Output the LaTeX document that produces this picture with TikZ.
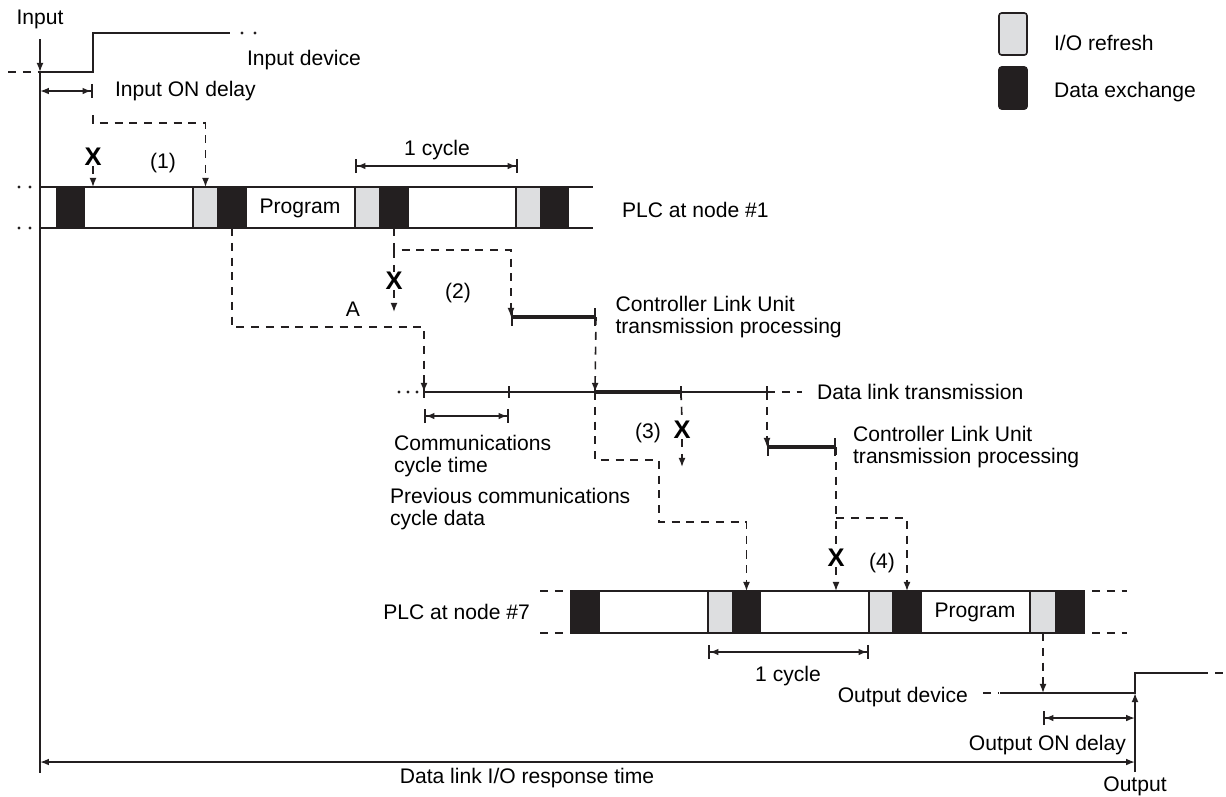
\documentclass[tikz,border=0pt]{standalone}
\usepackage{fontspec}
\setmainfont{Liberation Sans}
\usetikzlibrary{arrows.meta,positioning}
\definecolor{refgrey}{RGB}{221,222,224}
\definecolor{inkblack}{RGB}{35,31,32}

\begin{document}
\begin{tikzpicture}[x=0.02cm, y=-0.02cm, node distance=0.3cm,
  every node/.style={font=\fontsize{12}{12}\selectfont, inner sep=1pt},
  sig/.style={line width=0.95pt, inkblack},
  bus/.style={line width=2.8pt, inkblack, {Bar[width=10pt,line width=0.9pt]}-{Bar[width=10pt,line width=0.9pt]}},
  flow/.style={line width=0.9pt, inkblack, dash pattern=on 4.6pt off 3.8pt},
  ar/.style={-{Latex[length=5.2pt,width=4pt]}},
  cyc/.style={sig, {Bar[width=8pt]Latex[length=5pt,width=3.8pt]}-{Latex[length=5pt,width=3.8pt]Bar[width=8pt]}},
  ioref/.style={draw=inkblack, line width=0.9pt, fill=refgrey, minimum height=0.82cm, inner sep=0pt, outer sep=0pt},
  xchg/.style={draw=inkblack, line width=0.9pt, fill=inkblack, minimum height=0.82cm, inner sep=0pt, outer sep=0pt},
  lost/.style={font=\fontsize{14.5}{14.5}\selectfont\bfseries, inner sep=0pt}]
\useasboundingbox (0,0) rectangle (1226,796);

% input side
\node (tin) at (40,19) {Input};
\coordinate (in0) at (40,72);
\coordinate (vb) at (40,773);
\draw[sig] (in0) -- (vb);
\draw[sig,ar,shorten <=5pt] (tin.south) -- (in0);
\draw[flow] (8,72) -- (in0);
\draw[sig] (in0) -- (93,72) -- (93,33) -- (230,33);
\foreach \x in {242,255} \fill[inkblack] (\x,33) circle (0.9pt);
\node[anchor=west] (idev) at (245,60) {Input device};
\draw[sig,{Latex[length=5pt,width=3.8pt]}-{Latex[length=5pt,width=3.8pt]Bar[width=8pt]}] (40,91) -- (93,91);
\node[anchor=west] (idly) at (113,91) {Input ON delay};

% PLC at node #1
\draw[sig] (40,187) -- (593,187) (40,228) -- (593,228);
\foreach \y in {187,228} \foreach \x in {19,30} \fill[inkblack] (\x,\y) circle (0.9pt);
\foreach \nm/\x/\w/\kind in {a/57/27/xchg, b/193/25/ioref, c/218/28/xchg, d/355/25/ioref,
    e/380/28/xchg, f/516/25/ioref, g/541/27/xchg}
  \node[style=\kind, minimum width=\w*0.02cm, anchor=north west] (p1\nm) at (\x,187) {};
\node (prg1) at (300,208) {Program};
\node[anchor=west] (plc1) at (620,210) {PLC at node \#1};
\draw[cyc] (355,166) -- (518,166);
\node (cyc1) at (437,150) {1 cycle};

% PLC at node #7
\draw[sig] (571,591) -- (1084,591) (571,633) -- (1084,633);
\foreach \y in {591,633} {\draw[flow] (540,\y) -- (568,\y); \draw[flow] (1092,\y) -- (1127,\y);}
\foreach \nm/\x/\w/\kind in {a/571/28/xchg, b/708/25/ioref, c/733/27/xchg, d/869/24/ioref,
    e/893/28/xchg, f/1030/26/ioref, g/1056/28/xchg}
  \node[style=\kind, minimum width=\w*0.02cm, minimum height=0.84cm, anchor=north west] (p7\nm) at (\x,591) {};
\node (prg7) at (975,612) {Program};
\node[anchor=east] (plc7) at (532,612) {PLC at node \#7};
\draw[cyc] (708,652) -- (869,652);
\node (cyc7) at (788,676) {1 cycle};

% (1)
\node[lost] (x1) at (93,157) {X};
\draw[flow,ar] (x1.south) -- (93,187);
\draw[flow,ar] (93,115) -- (93,123) -| (p1b.north);
\node (n1) at (163,163) {(1)};

% (2)
\coordinate (clu1a) at (511,317);
\coordinate (clu1b) at (596,317);
\draw[flow,ar] (p1e.south) -- ++(0,22) coordinate (br2) -| (clu1a);
\node[lost] (x2) at (394,281) {X};
\draw[flow] (br2) -- (x2.north);
\draw[flow,ar] (x2.south) -- (394,312);
\node (na) at (353,309) {A};
\node (n2) at (458,293) {(2)};
\draw[bus] (clu1a) -- (clu1b);
\node[right=0.35cm of clu1b, align=left] (clu1t) {Controller Link Unit\\transmission processing};

% data link
\foreach \k/\x in {0/424,1/509,2/595,3/681,4/767} \coordinate (dl\k) at (\x,392);
\draw[sig] (dl0) -- (dl4);
\draw[bus,-] (dl2) -- (dl3);
\foreach \k in {0,...,4} \draw[sig] (dl\k) ++(0,-6) -- ++(0,12);
\foreach \x in {399,408,417} \fill[inkblack] (\x,392) circle (0.9pt);
\draw[flow] (dl4) -- ++(35,0);
\node[anchor=west] (dlt) at (815,392) {Data link transmission};
\draw[flow,ar] (p1c.south) -- ++(0,99) -| (dl0);
\draw[flow,ar] (clu1b) -- (dl2);
\draw[cyc] (424,416) -- (509,416);
\node[anchor=west, align=left] (cct) at (392,456) {Communications\\cycle time};

% (3)
\draw[flow,ar] (dl2) -- ++(0,68) -| (659,522) -| (p7c.north);
\node[lost] (x3) at (682,430) {X};
\draw[flow] (dl3) -- (x3.north);
\draw[flow,ar] (x3.south) -- (682,467);
\node (n3) at (648,433) {(3)};
\node[anchor=west, align=left] (prev) at (388,509) {Previous communications\\cycle data};
\coordinate (clu2a) at (767,447);
\coordinate (clu2b) at (836,447);
\draw[flow,ar] (dl4) -- (clu2a);
\draw[bus] (clu2a) -- (clu2b);
\node[right=0.3cm of clu2b, align=left] (clu2t) {Controller Link Unit\\transmission processing};

% (4)
\coordinate (br4) at (836,518);
\node[lost] (x4) at (836,558) {X};
\draw[flow] (clu2b) -- (x4.north);
\draw[flow,ar] (x4.south) -- (x4.south |- p7d.north);
\draw[flow,ar] (br4) -| (p7e.north);
\node (n4) at (882,563) {(4)};

% output side
\coordinate (od1) at (1043,693);
\coordinate (ob) at (1135,772);
\draw[flow,ar] (p7f.south) -- (od1);
\draw[flow] (983,693) -- (999,693);
\draw[sig] (1000,693) -- (1135,693) -- (1135,673) -- (1208,673);
\draw[flow] (1215,673) -- (1226,673);
\draw[sig,ar] (ob) -- (1135,693);
\node[anchor=east] (odev) at (970,697) {Output device};
\draw[sig,{Bar[width=8pt]Latex[length=5pt,width=3.8pt]}-{Latex[length=5pt,width=3.8pt]}] (1043,718) -- (1135,718);
\node[anchor=east] (odly) at (1128,745) {Output ON delay};
\node (tout) at (1135,786) {Output};
\draw[sig,{Latex[length=5pt,width=3.8pt]}-{Latex[length=5pt,width=3.8pt]}] (40,762) -- (1135,762);
\node (resp) at (527,778) {Data link I/O response time};

% legend
\node[ioref, minimum width=0.56cm, minimum height=0.84cm, rounded corners=1.5pt] (lg1) at (1013,34) {};
\node[anchor=west] (lg1t) at (1052,43) {I/O refresh};
\node[xchg, minimum width=0.56cm, minimum height=0.84cm, rounded corners=1.5pt] (lg2) at (1013,88) {};
\node[anchor=west] (lg2t) at (1052,92) {Data exchange};
\end{tikzpicture}
\end{document}
